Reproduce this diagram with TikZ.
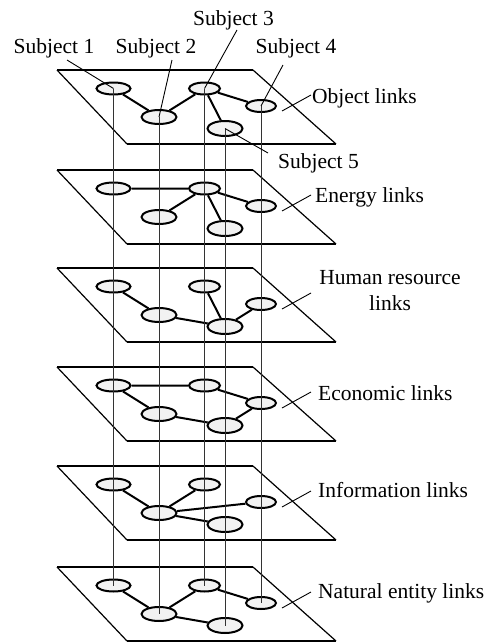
\documentclass[tikz,border=0pt]{standalone}
\usepackage{fontspec}
\setmainfont{Liberation Serif}
\usetikzlibrary{shapes.geometric}
\tikzset{
  plane side/.style={line width=1.2pt},
  plane edge/.style={line width=2pt},
  subj/.style={ellipse, draw, line width=2pt, fill=gray!10, inner sep=0pt},
  link/.style={line width=2pt},
  vline/.style={line width=1pt, black!80},
  leader/.style={line width=0.9pt},
  lbl/.style={font=\fontsize{21.5}{26}\selectfont, inner sep=0pt},
}
\begin{document}
\begin{tikzpicture}[x=1pt, y=-1pt]
\useasboundingbox (0,0) rectangle (492,643);

% six stacked planes with the five subjects on each
\foreach \k/\T in {1/70,2/170,3/268,4/367,5/466,6/567}{
  \begin{scope}[shift={(0,\T)}]
    \coordinate (P\k-a) at (57,0);
    \coordinate (P\k-b) at (253,0);
    \coordinate (P\k-c) at (336,74);
    \coordinate (P\k-d) at (127,74);
    \draw[plane side] (P\k-a) -- (P\k-d);
    \draw[plane side] (P\k-b) -- (P\k-c);
    \draw[plane edge] (P\k-a) -- (P\k-b);
    \draw[plane edge] (P\k-d) -- (P\k-c);
    \node[subj, minimum width=34, minimum height=12] (L\k-1) at (113.5,18.5) {};
    \node[subj, minimum width=35, minimum height=14] (L\k-2) at (159,47) {};
    \node[subj, minimum width=31, minimum height=12] (L\k-3) at (204.5,18.5) {};
    \node[subj, minimum width=30, minimum height=12] (L\k-4) at (261,36) {};
    \node[subj, minimum width=35, minimum height=15] (L\k-5) at (225,58.5) {};
    \coordinate (T\k-a) at (282,41);
    \coordinate (T\k-b) at (311,25);
  \end{scope}
}

% links inside each plane
\draw[link] (L1-1) -- (L1-2) -- (L1-3) -- (L1-4) (L1-3) -- (L1-5);
\draw[link] (L2-1) -- (L2-3) -- (L2-2) (L2-3) -- (L2-4) (L2-3) -- (L2-5);
\draw[link] (L3-1) -- (L3-2) -- (L3-5) -- (L3-3) (L3-5) -- (L3-4);
\draw[link] (L4-2) -- (L4-1) -- (L4-3) -- (L4-4) -- (L4-5) -- (L4-2);
\draw[link] (L5-1) -- (L5-2) -- (L5-3) (L5-2) -- (L5-4) (L5-2) -- (L5-5);
\draw[link] (L6-1) -- (L6-2) -- (L6-3) -- (L6-4) (L6-2) -- (L6-5);

% vertical ties of each subject through all planes
\foreach \i in {1,...,5}
  \draw[vline] (L1-\i.center) -- (L6-\i.center);

% subject labels
\node[lbl, anchor=base] (s1) at (54,53) {Subject 1};
\node[lbl, anchor=base] (s2) at (156,53) {Subject 2};
\node[lbl, anchor=base] (s3) at (233.5,25) {Subject 3};
\node[lbl, anchor=base] (s4) at (296,53) {Subject 4};
\node[lbl, anchor=base west] (s5) at (278,168) {Subject 5};
\coordinate (s1t) at (67,60);
\coordinate (s2t) at (172,60);
\coordinate (s3t) at (237,30);
\coordinate (s4t) at (283,65);
\coordinate (s5t) at (268,153);
\draw[leader] (s1t) -- (L1-1.center);
\draw[leader] (s2t) -- (L1-2.center);
\draw[leader] (s3t) -- (L1-3.center);
\draw[leader] (s4t) -- (L1-4.center);
\draw[leader] (s5t) -- (L1-5.center);

% plane labels
\node[lbl, anchor=base west] (n1) at (312,103) {Object links};
\node[lbl, anchor=base west] (n2) at (315,202) {Energy links};
\node[lbl, align=center] (n3) at (390,291) {Human resource\\links};
\node[lbl, anchor=base west] (n4) at (318,400) {Economic links};
\node[lbl, anchor=base west] (n5) at (318,497) {Information links};
\node[lbl, anchor=base west] (n6) at (318,598) {Natural entity links};
\foreach \k in {1,...,6}
  \draw[leader] (T\k-a) -- (T\k-b);
\end{tikzpicture}
\end{document}
